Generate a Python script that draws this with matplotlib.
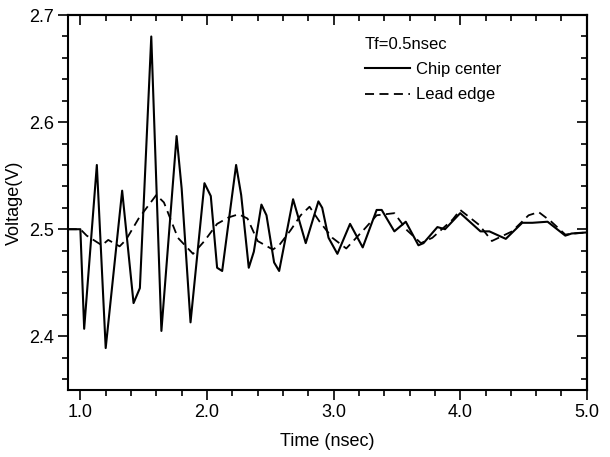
import numpy as np
import matplotlib
matplotlib.use('Agg')
import matplotlib.pyplot as plt
from matplotlib.ticker import MultipleLocator, FormatStrFormatter

plt.rcParams['font.family'] = ['Liberation Sans', 'DejaVu Sans']

# Chip center (solid)
chip_t = [0.9, 1.0, 1.03, 1.13, 1.20, 1.33, 1.42, 1.47, 1.56, 1.64, 1.76, 1.80, 1.87,
          1.98, 2.03, 2.08, 2.12, 2.23, 2.27, 2.33, 2.37, 2.43, 2.47, 2.53, 2.57, 2.68,
          2.78, 2.88, 2.91, 2.96, 3.03, 3.13, 3.23, 3.34, 3.38, 3.48, 3.57, 3.67, 3.71,
          3.82, 3.88, 4.00, 4.16, 4.23, 4.36, 4.49, 4.57, 4.69, 4.83, 4.88, 5.0]
chip_v = [2.5, 2.5, 2.407, 2.56, 2.389, 2.536, 2.431, 2.445, 2.68, 2.405, 2.587, 2.538, 2.413,
          2.543, 2.531, 2.464, 2.461, 2.56, 2.532, 2.464, 2.479, 2.523, 2.513, 2.469, 2.461, 2.528,
          2.487, 2.526, 2.52, 2.492, 2.477, 2.505, 2.483, 2.518, 2.518, 2.498, 2.507, 2.485, 2.487,
          2.502, 2.5, 2.515, 2.498, 2.498, 2.491, 2.506, 2.506, 2.507, 2.494, 2.496, 2.497]

# Lead edge (dashed)
lead_t = [0.9, 1.0, 1.05, 1.17, 1.22, 1.31, 1.36, 1.46, 1.60, 1.66, 1.77, 1.89, 1.98,
          2.08, 2.17, 2.25, 2.32, 2.40, 2.52, 2.57, 2.66, 2.74, 2.81, 2.89, 2.99, 3.10,
          3.25, 3.34, 3.48, 3.58, 3.69, 3.78, 3.94, 4.00, 4.15, 4.25, 4.41, 4.54, 4.62,
          4.72, 4.83, 4.90, 5.0]
lead_v = [2.5, 2.5, 2.494, 2.485, 2.49, 2.484, 2.49, 2.51, 2.532, 2.525, 2.492, 2.477, 2.489,
          2.505, 2.511, 2.514, 2.51, 2.489, 2.481, 2.485, 2.499, 2.513, 2.521, 2.507, 2.492, 2.482,
          2.501, 2.513, 2.515, 2.499, 2.487, 2.492, 2.509, 2.518, 2.504, 2.489, 2.498, 2.513, 2.516,
          2.507, 2.495, 2.496, 2.497]

fig = plt.figure(figsize=(6.1, 4.57), dpi=100)
ax = fig.add_axes([0.111, 0.147, 0.851, 0.82])

ax.plot(chip_t, chip_v, color='black', lw=1.5, label='Chip center')
ax.plot(lead_t, lead_v, color='black', lw=1.3, dashes=(5, 3), label='Lead edge')

ax.set_xlim(0.9, 5.0)
ax.set_ylim(2.35, 2.7)
ax.xaxis.set_major_locator(MultipleLocator(1.0))
ax.xaxis.set_minor_locator(MultipleLocator(0.2))
ax.yaxis.set_major_locator(MultipleLocator(0.1))
ax.yaxis.set_minor_locator(MultipleLocator(0.02))
ax.xaxis.set_major_formatter(FormatStrFormatter('%.1f'))
ax.yaxis.set_major_formatter(FormatStrFormatter('%.1f'))

for s in ax.spines.values():
    s.set_linewidth(1.5)
ax.tick_params(which='both', direction='out', labelsize=13, width=1.2, pad=3)
ax.tick_params(which='major', length=7)
ax.tick_params(which='minor', length=4)

# mirrored ticks on top and right point inward
top = ax.secondary_xaxis('top')
top.xaxis.set_major_locator(MultipleLocator(1.0))
top.xaxis.set_minor_locator(MultipleLocator(0.2))
right = ax.secondary_yaxis('right')
right.yaxis.set_major_locator(MultipleLocator(0.1))
right.yaxis.set_minor_locator(MultipleLocator(0.02))
for sec in (top, right):
    sec.tick_params(which='both', direction='in', labeltop=False, labelright=False, width=1.2)
    sec.tick_params(which='major', length=7)
    sec.tick_params(which='minor', length=4)
    for s in sec.spines.values():
        s.set_linewidth(1.5)

ax.set_xlabel('Time (nsec)', fontsize=13, labelpad=9)
ax.set_ylabel('Voltage(V)', fontsize=13, labelpad=4)

leg = ax.legend(loc='upper left', bbox_to_anchor=(0.56, 0.96), frameon=False,
                title='Tf=0.5nsec', fontsize=12, title_fontsize=12,
                handlelength=2.7, handletextpad=0.35, labelspacing=0.62,
                alignment='left', borderaxespad=0)

fig.savefig('out.png', dpi=100)
